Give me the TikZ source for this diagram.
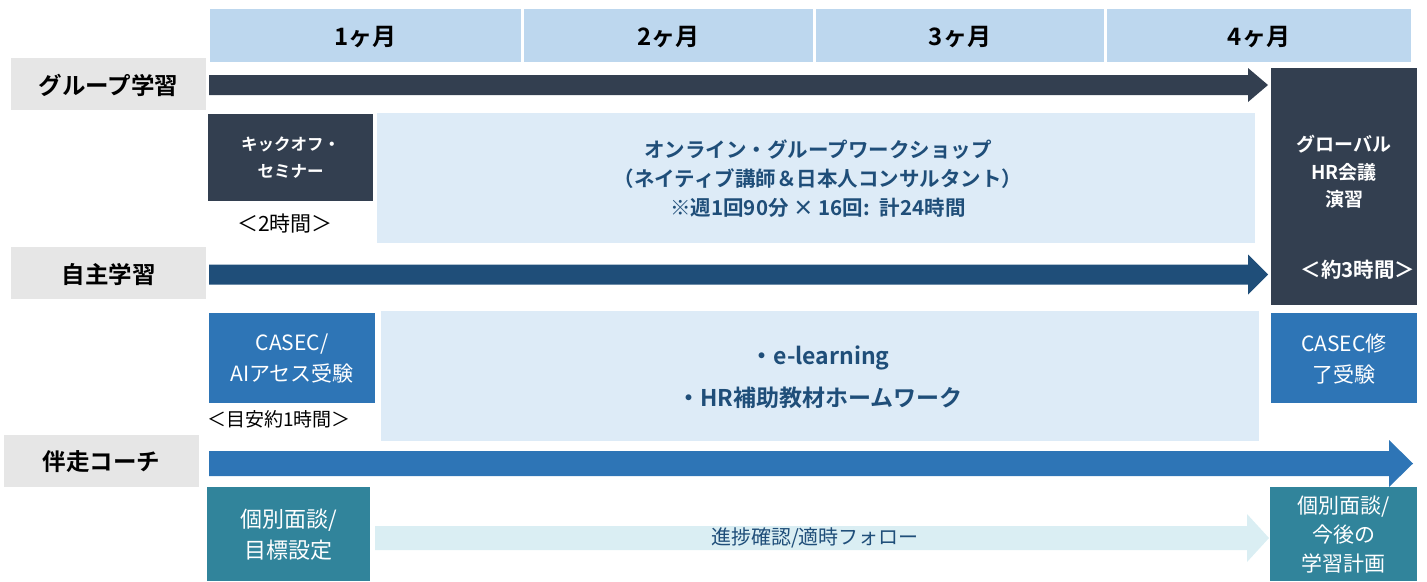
\documentclass[tikz,border=0pt]{standalone}
\usepackage{fontspec}
\setmainfont{Noto Sans CJK JP}[BoldFont={Noto Sans CJK JP Bold}]
\definecolor{hdr}{HTML}{BDD7EE}
\definecolor{lbl}{HTML}{E6E6E6}
\definecolor{navy}{HTML}{333F50}
\definecolor{dblue}{HTML}{1F4E79}
\definecolor{mblue}{HTML}{2E75B6}
\definecolor{lightbox}{HTML}{DDEBF7}
\definecolor{teal}{HTML}{31849B}
\definecolor{lightarr}{HTML}{DAEEF3}
\definecolor{txtblue}{HTML}{1F4E79}
\tikzset{
  box/.style={inner sep=0pt, outer sep=0pt, align=center, text depth=0pt},
  hdrbox/.style={box, fill=hdr, minimum height=53pt, font=\bfseries\fontsize{24}{28}\selectfont},
  lblbox/.style={box, fill=lbl, minimum width=195pt, minimum height=52pt, font=\bfseries\fontsize{23.5}{28}\selectfont},
  plain/.style={inner sep=0pt, align=center},
}
\newcommand{\blockarr}[7]{% x1, xbase, yc, body half, head half, tip, color
  \fill[#7] (#1,#3-#4) -- (#2,#3-#4) -- (#2,#3-#5) -- (#6,#3) -- (#2,#3+#5) -- (#2,#3+#4) -- (#1,#3+#4) -- cycle;}
\begin{document}
\begin{tikzpicture}[x=1pt,y=-1pt]
\useasboundingbox (0,0) rectangle (1427,581);
% header
\node[hdrbox, minimum width=311pt] (m1) at (365.5,35.5) {1ヶ月};
\node[hdrbox, minimum width=289pt] (m2) at (668.5,35.5) {2ヶ月};
\node[hdrbox, minimum width=288pt] (m3) at (960,35.5) {3ヶ月};
\node[hdrbox, minimum width=304pt] (m4) at (1259,35.5) {4ヶ月};
% row labels
\node[lblbox] (r1) at (108.5,84) {グループ学習};
\node[lblbox] (r2) at (108.5,273) {自主学習};
\node[lblbox] (r3) at (101.5,461) {伴走コーチ};
% arrows
\blockarr{209}{1248}{85}{10}{17}{1268}{navy}
\blockarr{209}{1248}{274.5}{10}{20}{1268}{dblue}
\blockarr{209}{1389}{463.5}{12.5}{23.5}{1413}{mblue}
\blockarr{375}{1247}{538}{12}{24}{1269}{lightarr}
% group row boxes
\node[box, fill=navy, text=white, minimum width=165pt, minimum height=87pt,
      font=\bfseries\fontsize{16.5}{27}\selectfont] (kick) at (290.5,157.5) {キックオフ・\\セミナー};
\node[plain, font=\fontsize{21}{24}\selectfont] (kickt) at (285,224) {＜2時間＞};
\node[box, fill=lightbox, text=txtblue, minimum width=878pt, minimum height=130pt,
      font=\bfseries\fontsize{20.5}{29}\selectfont] (online) at (816,178)
  {\hspace*{4pt}オンライン・グループワークショップ\\\hspace*{4pt}（ネイティブ講師＆日本人コンサルタント）\\\hspace*{4pt}※週1回90分 × 16回:\enspace 計24時間};
\node[box, fill=navy, text=white, minimum width=146pt, minimum height=237pt] (ghr) at (1344,186.5) {};
\node[plain, text=white, font=\bfseries\fontsize{19}{27.5}\selectfont] (ghrt) at (1344,172) {グローバル\\HR会議\\演習};
\node[plain, text=white, font=\bfseries\fontsize{20.5}{24}\selectfont] (ghrtime) at (1358,270) {＜約3時間＞};
% self-study row boxes
\node[box, fill=mblue, text=white, minimum width=166pt, minimum height=90pt,
      font=\fontsize{21}{31}\selectfont] (casec) at (292,358) {CASEC/\\AIアセス受験};
\node[plain, font=\fontsize{19}{22}\selectfont] (casect) at (279,419) {＜目安約1時間＞};
\node[box, fill=lightbox, text=txtblue, minimum width=878pt, minimum height=130pt,
      font=\bfseries\fontsize{23}{42}\selectfont] (elearn) at (820,376)
  {・e-learning\\・HR補助教材ホームワーク};
\node[box, fill=mblue, text=white, minimum width=146pt, minimum height=90pt,
      font=\fontsize{21}{31}\selectfont] (casec2) at (1344,358) {CASEC修\\了受験};
% coach row boxes
\node[box, fill=teal, text=white, minimum width=163pt, minimum height=94pt,
      font=\fontsize{22}{31}\selectfont] (coach1) at (288.5,534) {個別面談/\\目標設定};
\node[plain, text=txtblue, font=\fontsize{20}{24}\selectfont] (prog) at (815,538) {進捗確認/適時フォロー};
\node[box, fill=teal, text=white, minimum width=147pt, minimum height=94pt,
      font=\fontsize{21}{29}\selectfont] (coach2) at (1343.5,534) {個別面談/\\今後の\\学習計画};
\end{tikzpicture}
\end{document}
